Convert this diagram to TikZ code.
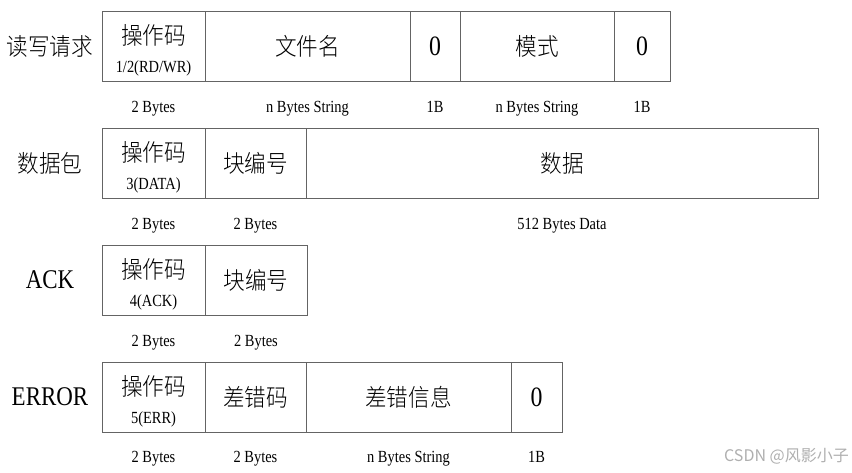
\documentclass[tikz,border=0pt]{standalone}
\usepackage{fontspec}
\usetikzlibrary{positioning}
\setmainfont[FakeStretch=0.85]{Liberation Serif}
\newfontfamily\cjk[FakeStretch=0.9]{Noto Sans CJK SC Light}
\newfontfamily\wmfont{Noto Sans CJK SC}
\definecolor{boxline}{RGB}{100,100,100}
\definecolor{wmgray}{RGB}{175,175,175}
\tikzset{
	cell/.style={draw=boxline, line width=0.8pt, minimum height=70pt, inner sep=0pt, outer sep=0pt, font=\cjk\fontsize{24}{26}\selectfont},
	zerocell/.style={cell, font=\fontsize{28}{30}\selectfont},
	opname/.style={font=\cjk\fontsize{24}{26}\selectfont, inner sep=0pt},
	opcode/.style={font=\fontsize{17}{18}\selectfont, inner sep=0pt, anchor=base},
	sizelbl/.style={font=\fontsize{17}{18}\selectfont, inner sep=0pt, anchor=base},
	rowcjk/.style={font=\cjk\fontsize{24}{26}\selectfont, inner sep=0pt},
	rowlat/.style={font=\fontsize{27}{29}\selectfont, inner sep=0pt}
}

\begin{document}
\begin{tikzpicture}[x=1pt, y=-1pt]
			\useasboundingbox (0,0) rectangle (852,472);
			% 读写请求
			\node[rowcjk] (rwlbl) at (50,46) {读写请求};
			\node[cell, minimum width=103pt, anchor=west] (rwop) at (102,46) {};
			\node[opname] (rwopname) at ([yshift=-24pt]rwop.north) {操作码};
			\node[opcode] (rwopcode) at ([yshift=-61pt]rwop.north) {1/2(RD/WR)};
			\node[cell, minimum width=205pt, right=0pt of rwop] (rwfile) {文件名};
			\node[zerocell, minimum width=50pt, right=0pt of rwfile] (rwzeroa) {0};
			\node[cell, minimum width=154pt, right=0pt of rwzeroa] (rwmode) {模式};
			\node[zerocell, minimum width=56pt, right=0pt of rwmode] (rwzerob) {0};
			\node[sizelbl] (rwopsz) at ([yshift=-31pt]rwop.south) {2 Bytes};
			\node[sizelbl] (rwfilesz) at ([yshift=-31pt]rwfile.south) {n Bytes String};
			\node[sizelbl] (rwzeroasz) at ([yshift=-31pt]rwzeroa.south) {1B};
			\node[sizelbl] (rwmodesz) at ([yshift=-31pt]rwmode.south) {n Bytes String};
			\node[sizelbl] (rwzerobsz) at ([yshift=-31pt]rwzerob.south) {1B};
			% 数据包
			\node[rowcjk] (datalbl) at (50,163) {数据包};
			\node[cell, minimum width=103pt, anchor=west] (dataop) at (102,163) {};
			\node[opname] (dataopname) at ([yshift=-24pt]dataop.north) {操作码};
			\node[opcode] (dataopcode) at ([yshift=-61pt]dataop.north) {3(DATA)};
			\node[cell, minimum width=101pt, right=0pt of dataop] (datablk) {块编号};
			\node[cell, minimum width=512pt, right=0pt of datablk] (datadata) {数据};
			\node[sizelbl] (dataopsz) at ([yshift=-31pt]dataop.south) {2 Bytes};
			\node[sizelbl] (datablksz) at ([yshift=-31pt]datablk.south) {2 Bytes};
			\node[sizelbl] (datadatasz) at ([yshift=-31pt]datadata.south) {512 Bytes Data};
			% ACK
			\node[rowlat] (acklbl) at (50,280) {ACK};
			\node[cell, minimum width=103pt, anchor=west] (ackop) at (102,280) {};
			\node[opname] (ackopname) at ([yshift=-24pt]ackop.north) {操作码};
			\node[opcode] (ackopcode) at ([yshift=-61pt]ackop.north) {4(ACK)};
			\node[cell, minimum width=102pt, right=0pt of ackop] (ackblk) {块编号};
			\node[sizelbl] (ackopsz) at ([yshift=-31pt]ackop.south) {2 Bytes};
			\node[sizelbl] (ackblksz) at ([yshift=-31pt]ackblk.south) {2 Bytes};
			% ERROR
			\node[rowlat] (errlbl) at (50,397) {ERROR};
			\node[cell, minimum width=103pt, anchor=west] (errop) at (102,397) {};
			\node[opname] (erropname) at ([yshift=-24pt]errop.north) {操作码};
			\node[opcode] (erropcode) at ([yshift=-61pt]errop.north) {5(ERR)};
			\node[cell, minimum width=101pt, right=0pt of errop] (errcode) {差错码};
			\node[cell, minimum width=205pt, right=0pt of errcode] (errmsg) {差错信息};
			\node[zerocell, minimum width=51pt, right=0pt of errmsg] (errzero) {0};
			\node[sizelbl] (erropsz) at ([yshift=-30pt]errop.south) {2 Bytes};
			\node[sizelbl] (errcodesz) at ([yshift=-30pt]errcode.south) {2 Bytes};
			\node[sizelbl] (errmsgsz) at ([yshift=-30pt]errmsg.south) {n Bytes String};
			\node[sizelbl] (errzerosz) at ([yshift=-30pt]errzero.south) {1B};
%			watermark
			\node[wmgray, font=\wmfont\fontsize{16}{18}\selectfont, anchor=east, inner sep=0pt] (wm) at (849,456) {CSDN @风影小子};
		\end{tikzpicture}
\end{document}
